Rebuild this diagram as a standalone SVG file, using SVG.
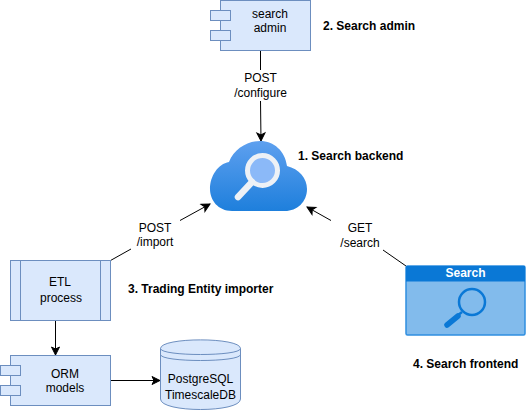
<svg xmlns="http://www.w3.org/2000/svg" width="526" height="411" viewBox="0 0 526 411">
<defs>
<linearGradient id="cg" x1="0" y1="0" x2="0" y2="1"><stop offset="0" stop-color="#5ea0ef"/><stop offset="1" stop-color="#1e7fdc"/></linearGradient>
<marker id="arr" markerUnits="userSpaceOnUse" markerWidth="10" markerHeight="10" refX="8" refY="4" orient="auto" overflow="visible"><path d="M0 0L8 4L0 8L2 4Z" fill="#000" stroke="#000" stroke-width="1"/></marker>
</defs>
<style>
.b{fill:#dae8fc;stroke:#6c8ebf;stroke-width:1}
.t{font-family:"Liberation Sans",Arial,sans-serif;font-size:12px;text-anchor:middle;fill:#000}
.l{font-family:"Liberation Sans",Arial,sans-serif;font-size:12px;font-weight:bold;fill:#000}
.c{fill:none;stroke:#000;stroke-width:1}
</style>
<rect width="526" height="411" fill="#fff"/>
<g id="connectors">
<path class="c" d="M260.500 51V70"/>
<path class="c" d="M260.500 101L261 141" marker-end="url(#arr)"/>
<path class="c" d="M180 220.500L210 204" marker-end="url(#arr)"/>
<path class="c" d="M131 249L110.500 260.500"/>
<path class="c" d="M331 220.500L307 207" marker-end="url(#arr)"/>
<path class="c" d="M383 250L406 266"/>
<path class="c" d="M55.500 320V355" marker-end="url(#arr)"/>
<path class="c" d="M110 380.500H160" marker-end="url(#arr)"/>
</g>
<g id="search-admin">
<rect class="b" x="220.500" y="0.500" width="90" height="50"/>
<rect class="b" x="210.500" y="10.500" width="20" height="10"/>
<rect class="b" x="210.500" y="30.500" width="20" height="10"/>
<text class="t" x="270" y="18">search</text>
<text class="t" x="270" y="32">admin</text>
</g>
<g id="configure-label"><text class="t" x="260.500" y="82">POST</text><text class="t" x="260.500" y="97">/configure</text></g>
<g id="search-admin-label"><text class="l" x="323" y="30">2. Search admin</text></g>
<g id="search-backend">
<path d="M232 211C218 211 210 200 210 189C210 176 218 164 229 162C234 149 247 141 260 141C274 141 285 151 287 166C299 169 307 178 307 189C307 202 297 211 285 211Z" fill="url(#cg)"/>
<circle cx="262.500" cy="170.500" r="15" fill="#8bb9f8" stroke="#edf1f6" stroke-width="5"/>
<path d="M252 182L238 197" stroke="#edf1f6" stroke-width="6.500" stroke-linecap="round"/>
</g>
<g id="backend-label"><text class="l" x="298" y="160">1. Search backend</text></g>
<g id="import-label"><text class="t" x="155" y="232">POST</text><text class="t" x="155" y="246">/import</text></g>
<g id="get-label"><text class="t" x="360" y="232">GET</text><text class="t" x="360" y="247">/search</text></g>
<g id="etl">
<rect class="b" x="10.500" y="260.500" width="100" height="60"/>
<path class="b" d="M20.500 260.500V320.500M100.500 260.500V320.500"/>
<text class="t" x="60" y="286">ETL</text>
<text class="t" x="61" y="302">process</text>
</g>
<g id="etl-label"><text class="l" x="128" y="293">3. Trading Entity importer</text></g>
<g id="orm">
<rect class="b" x="10.500" y="355.500" width="100" height="50"/>
<rect class="b" x="0.500" y="365.500" width="20" height="10"/>
<rect class="b" x="0.500" y="385.500" width="20" height="10"/>
<text class="t" x="65" y="378">ORM</text>
<text class="t" x="65" y="392">models</text>
</g>
<g id="db">
<path class="b" d="M160.500 348.500C160.500 337 240.500 337 240.500 348.500V399C240.500 413 160.500 413 160.500 399Z"/>
<path class="c" style="stroke:#6c8ebf" d="M160.500 348.500C160.500 356.500 240.500 356.500 240.500 348.500M160.500 354.500C160.500 362.500 240.500 362.500 240.500 354.500"/>
<text class="t" x="200.500" y="383">PostgreSQL</text>
<text class="t" x="200.500" y="399">TimescaleDB</text>
</g>
<g id="frontend">
<rect x="406" y="266" width="119" height="69" rx="1.500" fill="#82bbec" stroke="#2f8fe0" stroke-width="1.500"/>
<rect x="406" y="266" width="119" height="15.500" fill="#0a78d6"/>
<text x="465.500" y="277" font-family="Liberation Sans, Arial, sans-serif" font-size="12" font-weight="bold" text-anchor="middle" fill="#fff">Search</text>
<circle cx="472" cy="302" r="13" fill="none" stroke="#0a78d6" stroke-width="2.500"/>
<path d="M462 312L457 316" stroke="#0a78d6" stroke-width="2.500"/>
<path d="M458 316L447 325" stroke="#0a78d6" stroke-width="5.500" stroke-linecap="round"/>
</g>
<g id="frontend-label"><text class="l" x="413" y="368">4. Search frontend</text></g>
</svg>
